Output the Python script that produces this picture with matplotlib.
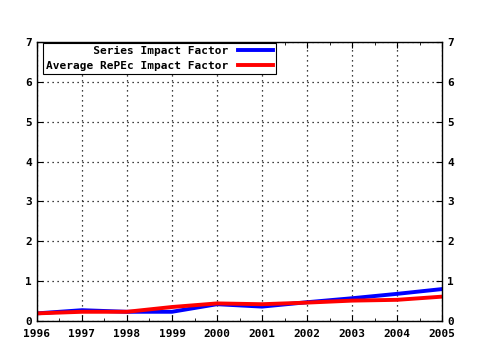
import numpy as np
import matplotlib.pyplot as plt

years = [1996, 1997, 1998, 1999, 2000, 2001, 2002, 2003, 2004, 2005]
series_if = [0.19, 0.27, 0.23, 0.23, 0.42, 0.36, 0.47, 0.57, 0.68, 0.80]
repec_if = [0.19, 0.23, 0.23, 0.35, 0.44, 0.42, 0.46, 0.51, 0.53, 0.61]

plt.rcParams['font.family'] = ['DejaVu Sans Mono']
plt.rcParams['font.weight'] = 'bold'
plt.rcParams['font.size'] = 8

fig = plt.figure(figsize=(4.8, 3.5), dpi=100)
ax = fig.add_axes([0.077, 0.083, 0.844, 0.797])

ax.plot(years, series_if, color="#0000ff", linewidth=2.8, label="       Series Impact Factor")
ax.plot(years, repec_if, color="#ff0000", linewidth=2.8, label="Average RePEc Impact Factor")

ax.set_xlim(1996, 2005)
ax.set_ylim(0, 7)
ax.set_xticks(years)
ax.set_xticks(np.arange(1996.5, 2005, 1), minor=True)
ax.set_yticks(range(0, 8))
ax.tick_params(which="both", direction="in", top=True, right=True, labelright=True,
               colors="black", labelsize=8)
ax.tick_params(which="major", length=4)
ax.tick_params(which="minor", length=2)
ax.tick_params(axis="x", pad=6)
ax.grid(True, which="major", linestyle=(0, (1, 3)), color="black", linewidth=0.9)
for s in ax.spines.values():
    s.set_linewidth(1)

leg = ax.legend(loc="upper left", bbox_to_anchor=(0.015, 0.997), markerfirst=False,
                fancybox=False, edgecolor="black", framealpha=1, handlelength=3.2,
                borderpad=0.3, labelspacing=0.4, handletextpad=0.8, borderaxespad=0)
leg.get_frame().set_linewidth(0.8)

fig.savefig("out.png")
